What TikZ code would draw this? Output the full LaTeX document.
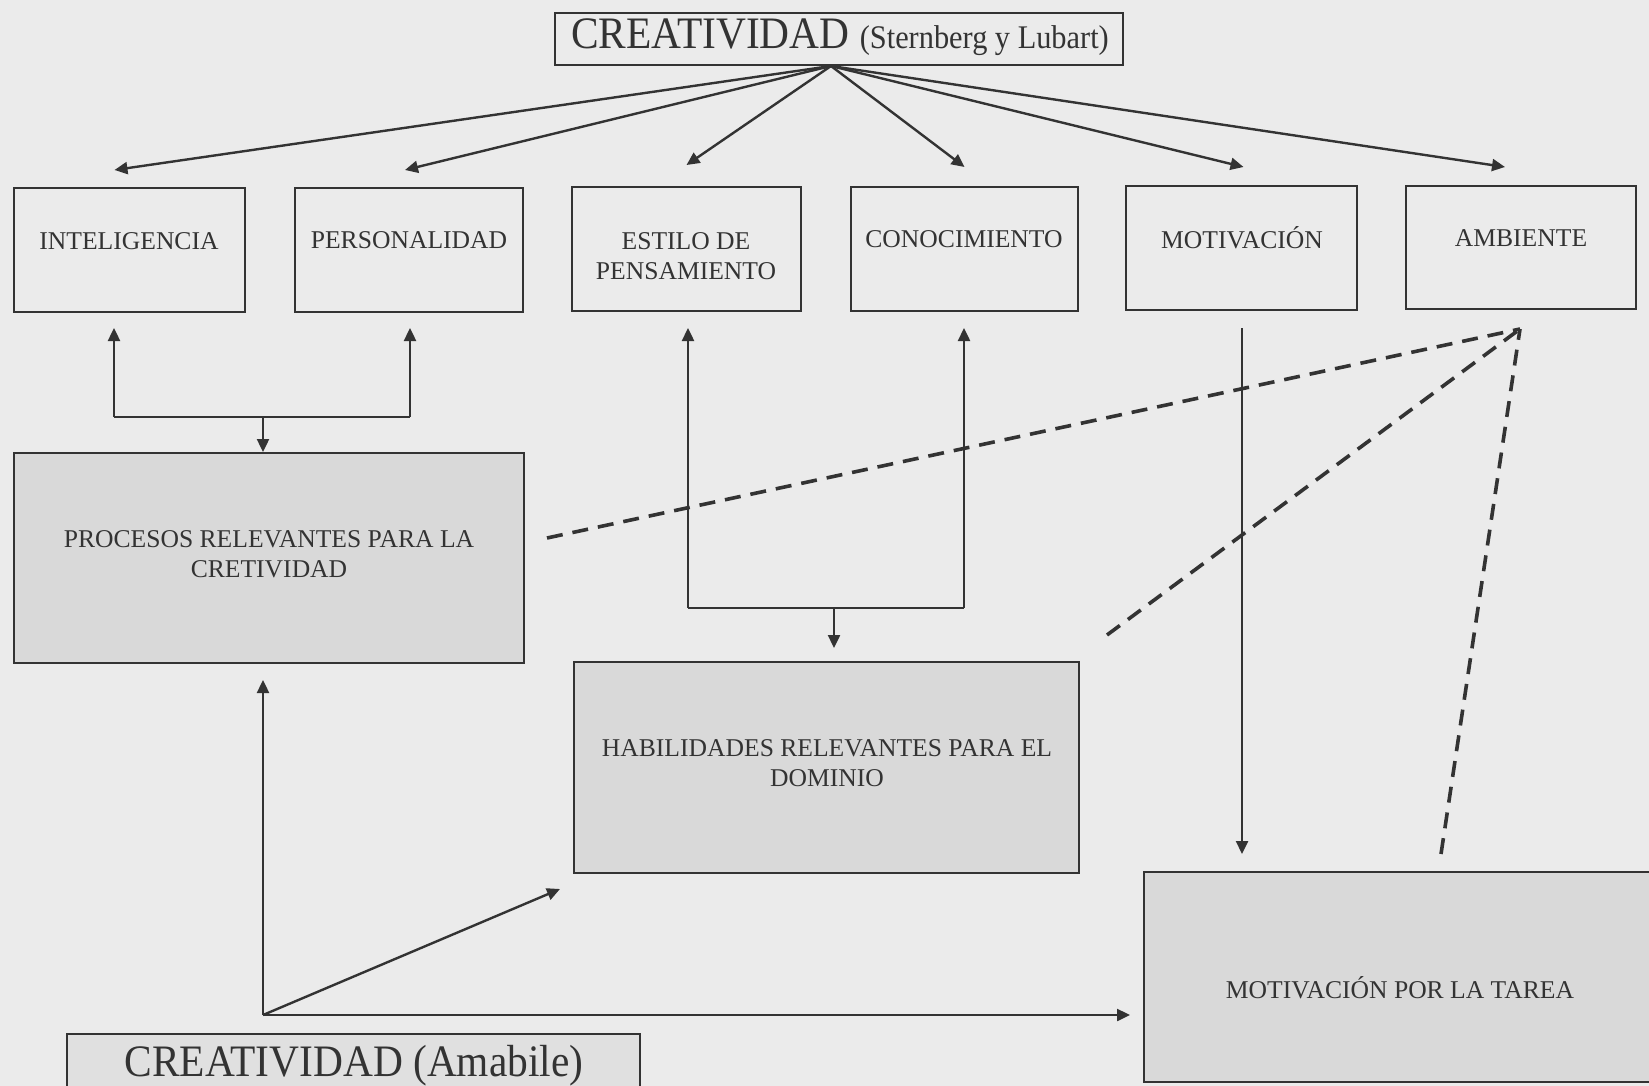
\documentclass[tikz,border=0pt]{standalone}
\usepackage{fontspec}
\setmainfont{Liberation Serif}
\newfontfamily\titlefont[FakeStretch=0.92]{Liberation Serif}
\usetikzlibrary{arrows.meta,calc,fit}

\definecolor{paper}{HTML}{EBEBEB}
\definecolor{shade}{HTML}{D9D9D9}
\definecolor{ink}{HTML}{333333}

\begin{document}
\begin{tikzpicture}[x=0.5pt,y=-0.5pt,
  box/.style={draw=ink, line width=1pt, inner sep=0pt},
  greybox/.style={box, fill=shade},
  lbl/.style={text=ink, font=\fontsize{12.8}{15}\selectfont, align=center, inner sep=0pt},
  arr/.style={draw=ink, line width=1.2pt, -{Triangle[length=6.5pt,width=6pt]}},
  wire/.style={draw=ink, line width=1.2pt},
  dashlink/.style={draw=ink, line width=1.8pt, dash pattern=on 8pt off 5pt}]

\fill[paper] (0,0) rectangle (1649,1086);
\useasboundingbox (0,0) rectangle (1649,1086);

% --- boxes ---
\node[box, fit={(555,13) (1123,65)}] (sl) {};
\node[lbl, anchor=base] at (840,49) {\titlefont\fontsize{22.5}{25}\selectfont CREATIVIDAD \fontsize{16.5}{19}\selectfont(Sternberg y Lubart)};

\node[box, fit={(14,188) (245,312)}] (int) {};
\node[box, fit={(295,188) (523,312)}] (per) {};
\node[box, fit={(572,187) (801,311)}] (est) {};
\node[box, fit={(851,187) (1078,311)}] (con) {};
\node[box, fit={(1126,186) (1357,310)}] (mot) {};
\node[box, fit={(1406,186) (1636,309)}] (amb) {};

\node[lbl] at (129,241) {INTELIGENCIA};
\node[lbl] at (409,240) {PERSONALIDAD};
\node[lbl] at (686,256) {ESTILO DE\\PENSAMIENTO};
\node[lbl] at (964,239) {CONOCIMIENTO};
\node[lbl] at (1242,238) {MOTIVACIÓN};
\node[lbl] at (1521,238) {AMBIENTE};

\node[greybox, fit={(14,453) (524,663)}] (pro) {};
\node[lbl] at (269,554) {PROCESOS RELEVANTES PARA LA\\CRETIVIDAD};

\node[greybox, fit={(574,662) (1079,873)}] (hab) {};
\node[lbl] at (827,763) {HABILIDADES RELEVANTES PARA EL\\DOMINIO};

\node[greybox, fit={(1144,872) (1665,1082)}] (tar) {};
\node[lbl] at (1400,988) {MOTIVACIÓN POR LA TAREA};

\node[box, fill=shade!60!paper, fit={(67,1034) (640,1100)}] (ama) {};
\node[lbl, anchor=base] at (354,1076) {\titlefont\fontsize{22.5}{25}\selectfont CREATIVIDAD (Amabile)};

% --- fan of arrows from the top title ---
\coordinate (apex) at ([xshift=-4pt]sl.south);
\draw[arr] (apex) -- ([shift={(-15,-17)}]int.north);
\draw[arr] (apex) -- ([shift={(-4,-17)}]per.north);
\draw[arr] (apex) -- ([shift={(0,-21)}]est.north);
\draw[arr] (apex) -- ([shift={(0,-19)}]con.north);
\draw[arr] (apex) -- ([shift={(2,-18)}]mot.north);
\draw[arr] (apex) -- ([shift={(-16,-18)}]amb.north);

% --- inteligencia / personalidad -> procesos ---
\coordinate (ipL) at (114,417);
\coordinate (ipR) at (410,417);
\coordinate (ipM) at (263,417);
\draw[wire] (ipL) -- (ipR);
\draw[arr] (ipL) -- (114,328);
\draw[arr] (ipR) -- (410,328);
\draw[arr] (ipM) -- (ipM |- pro.north);

% --- estilo / conocimiento -> habilidades ---
\coordinate (ecL) at (688,608);
\coordinate (ecR) at (964,608);
\coordinate (ecM) at (834,608);
\draw[wire] (ecL) -- (ecR);
\draw[arr] (ecL) -- (688,328);
\draw[arr] (ecR) -- (964,328);
\draw[arr] (ecM) -- (834,648);

% --- motivacion -> motivacion por la tarea ---
\draw[arr] (1242,328) -- (1242,854);

% --- amabile components ---
\coordinate (am) at (263,1015);
\draw[arr] (am) -- (263,680);
\draw[arr] (am) -- (560,889);
\draw[arr] (am) -- (1130,1015);

% --- ambiente influences (dashed) ---
\coordinate (envtip) at (1520,329);
\draw[dashlink] (547,538) -- (envtip);
\draw[dashlink] (1107,635) -- (envtip);
\draw[dashlink] (1441,854) -- (envtip);
\end{tikzpicture}
\end{document}
